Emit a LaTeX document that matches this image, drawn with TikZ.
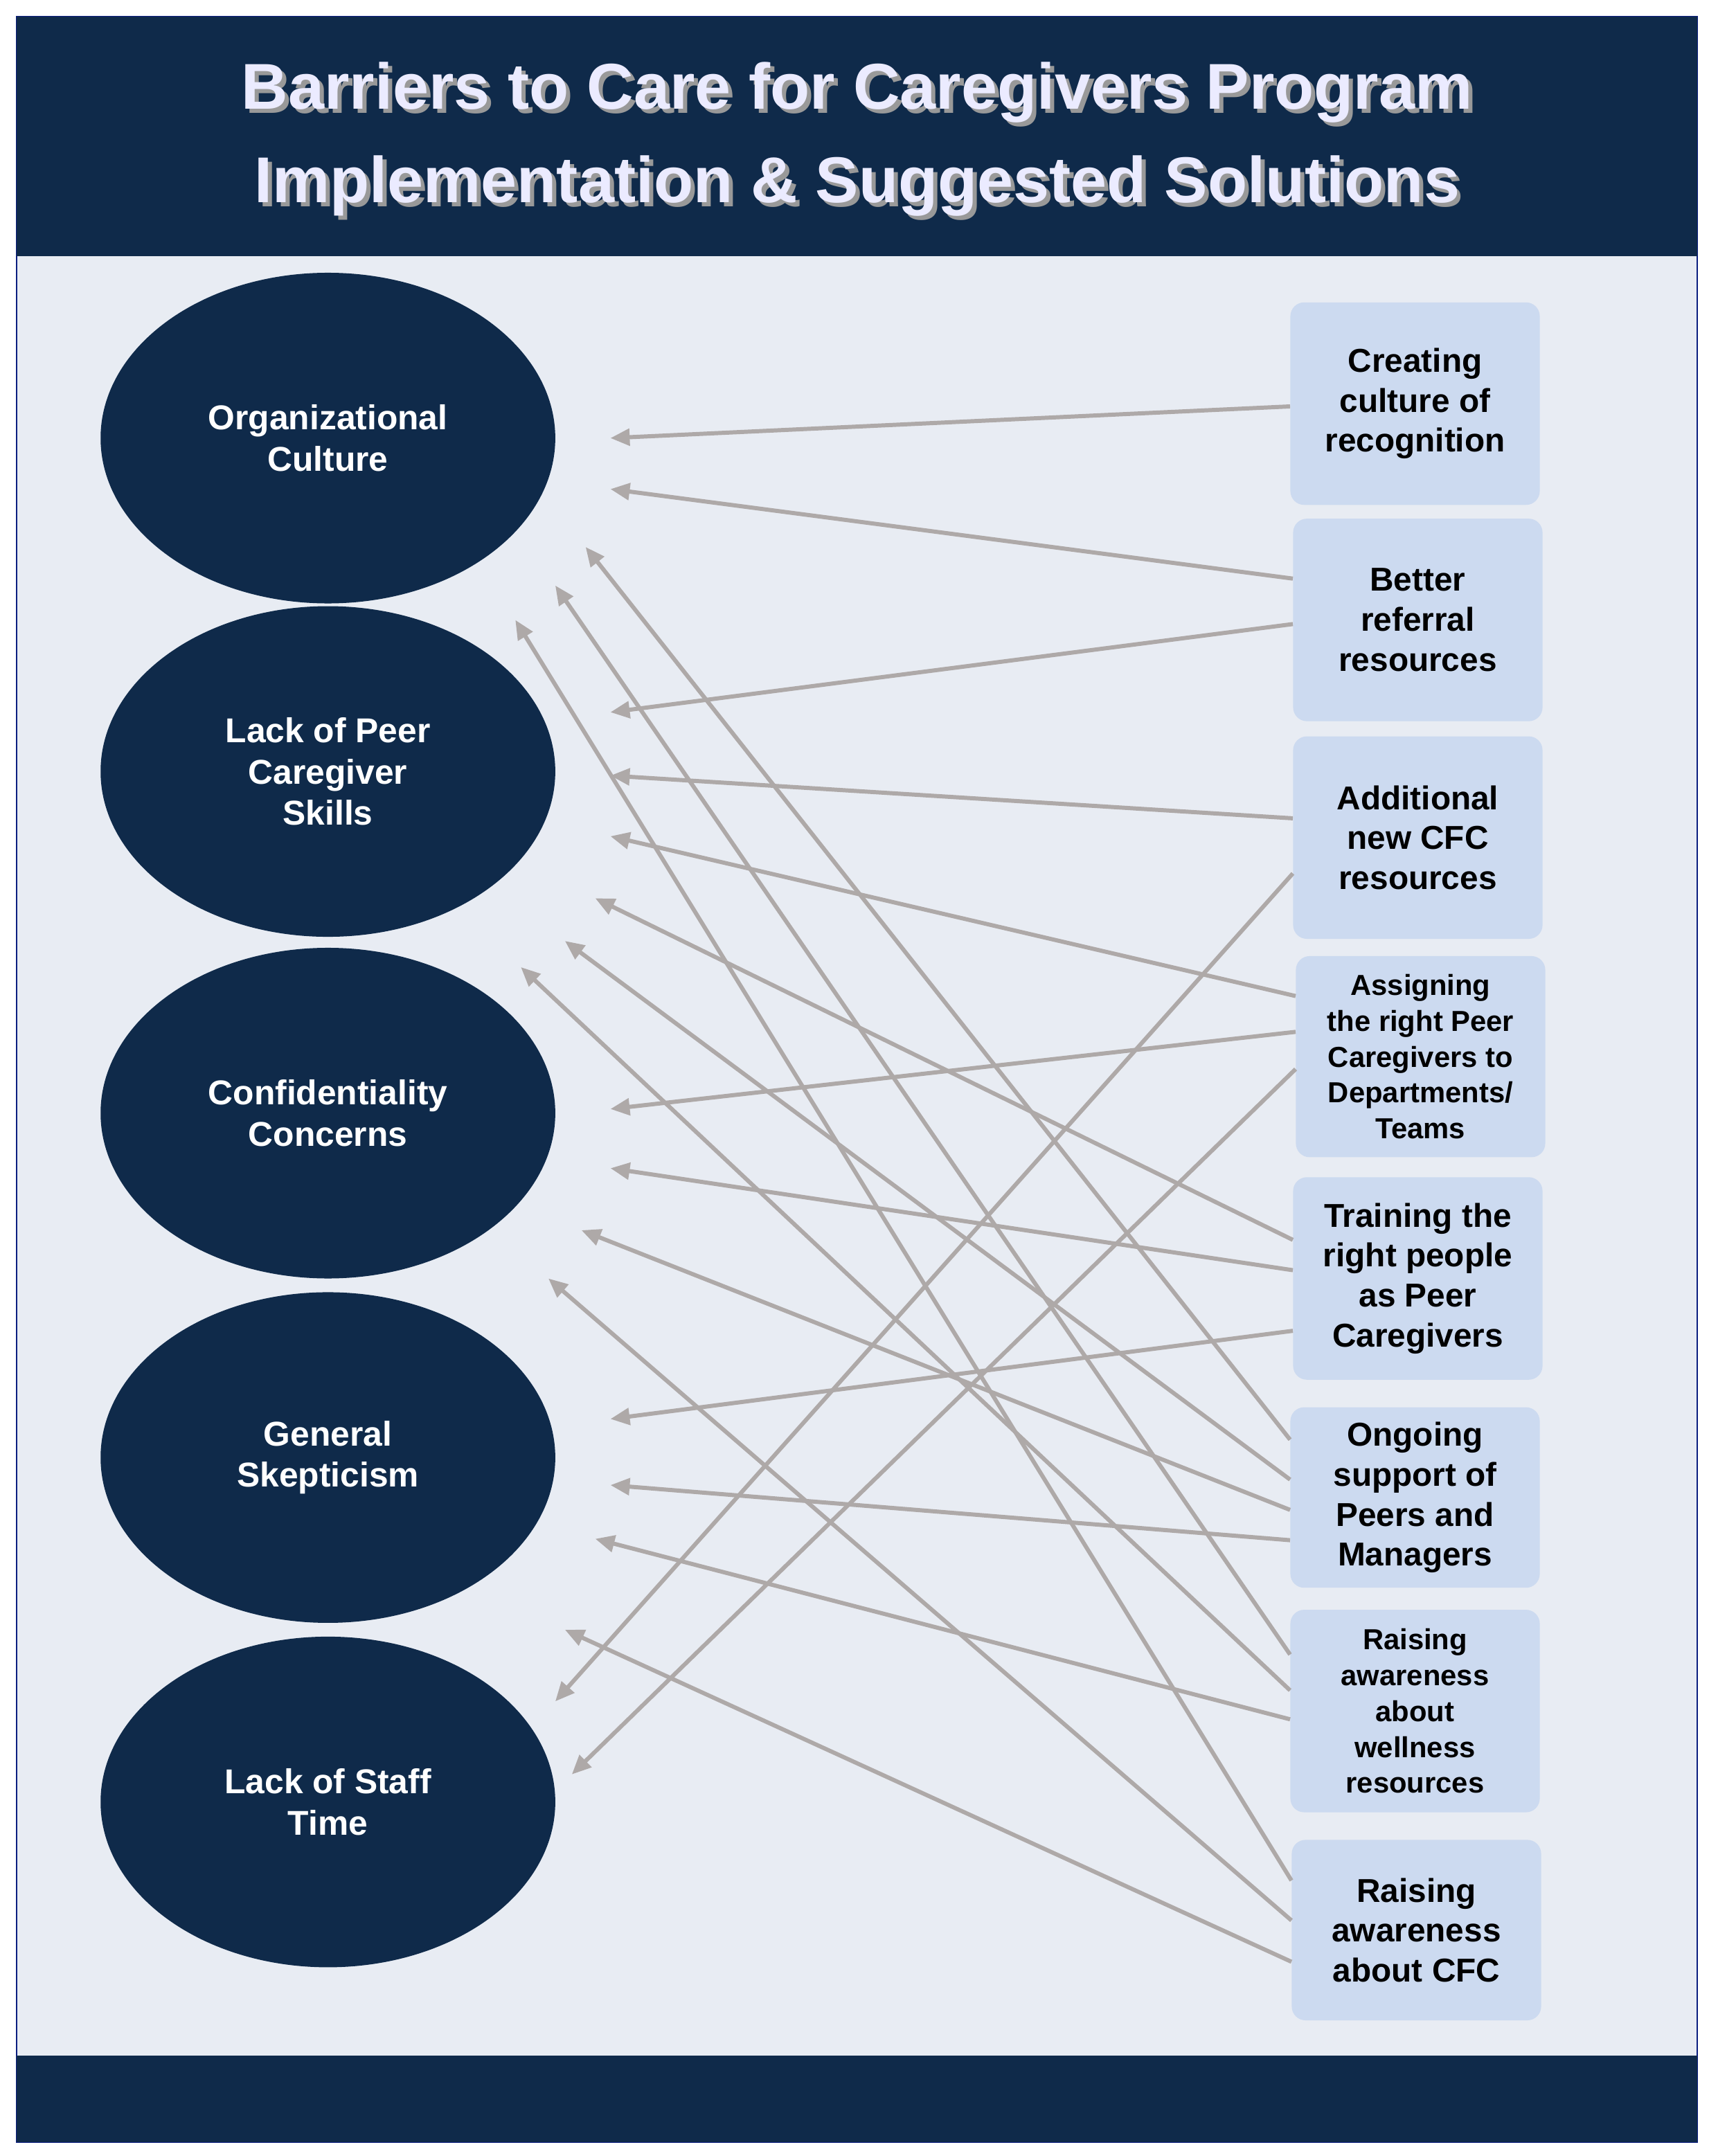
\documentclass[tikz,border=0pt]{standalone}
\usepackage{fontspec}
\setmainfont{Liberation Sans}
\usetikzlibrary{shapes.geometric,arrows.meta}
\definecolor{navy}{HTML}{0F2A4A}
\definecolor{bg}{HTML}{E8ECF3}
\definecolor{boxc}{HTML}{CCDAF0}
\definecolor{arr}{HTML}{AEA9A8}
\begin{document}
\begin{tikzpicture}[x=1pt,y=-1pt,
  ell/.style={ellipse,fill=navy,minimum width=330pt,minimum height=240pt,text=white,font=\bfseries\fontsize{25}{30}\selectfont,align=center,inner sep=0pt},
  bx/.style={rounded corners=10pt,fill=boxc,minimum width=181pt,align=center,font=\bfseries\fontsize{24}{29}\selectfont,inner sep=2pt},
  sm/.style={font=\bfseries\fontsize{21}{26}\selectfont},
  ar/.style={draw=arr,line width=3pt,-{Triangle[length=14pt,width=12pt]}}]
\useasboundingbox (0,0) rectangle (1240,1565);
\fill[white] (0,0) rectangle (1240,1565);
\fill[bg,draw=navy!70!blue,line width=1pt] (12,12) rectangle (1232,1555);
\fill[navy] (12,12) rectangle (1232,186);
\fill[navy] (12,1492) rectangle (1232,1555);
\node[text=black!40,font=\bfseries\fontsize{47}{68}\selectfont,align=center] at (625,104) {Barriers to Care for Caregivers Program\\Implementation \& Suggested Solutions};
\node (title) [text=white!92!blue,font=\bfseries\fontsize{47}{68}\selectfont,align=center] at (622,101) {Barriers to Care for Caregivers Program\\Implementation \& Suggested Solutions};
\node[ell] (e1) at (238,318) {Organizational\\Culture};
\node[ell] (e2) at (238,560) {Lack of Peer\\Caregiver\\Skills};
\node[ell] (e3) at (238,808) {Confidentiality\\Concerns};
\node[ell] (e4) at (238,1058) {General\\Skepticism};
\node[ell] (e5) at (238,1308) {Lack of Staff\\Time};
\node[bx,minimum height=147pt] (b1) at (1027,293) {Creating\\culture of\\recognition};
\node[bx,minimum height=147pt] (b2) at (1029,450) {Better\\referral\\resources};
\node[bx,minimum height=147pt] (b3) at (1029,608) {Additional\\new CFC\\resources};
\node[bx,sm,minimum height=146pt] (b4) at (1031,767) {Assigning\\the right Peer\\Caregivers to\\Departments/\\Teams};
\node[bx,minimum height=147pt] (b5) at (1029,928) {Training the\\right people\\as Peer\\Caregivers};
\node[bx,minimum height=131pt] (b6) at (1027,1087) {Ongoing\\support of\\Peers and\\Managers};
\node[bx,sm,minimum height=147pt] (b7) at (1027,1242) {Raising\\awareness\\about\\wellness\\resources};
\node[bx,minimum height=131pt] (b8) at (1028,1401) {Raising\\awareness\\about CFC};
% free ends near barriers
\foreach \n/\x/\y in {a1/443/318,a2/443/355,a3/443/517,a4/443/563,a5/443/607,a6/443/805,a7/403/1235,a8/415/1288,a9/432/652,a10/443/848,a11/443/1030,a12/425/397,a13/410/683,a14/422/893,a15/443/1078,a16/403/425,a17/378/702,a18/432/1117,a19/374/450,a20/398/928,a21/410/1183}
  \coordinate (\n) at (\x,\y);
\foreach \s/\y/\t in {b1/295/a1,b2/420/a2,b2/453/a3,b3/594/a4,b3/634/a7,b4/723/a5,b4/749/a6,b4/776/a8,b5/900/a9,b5/922/a10,b5/966/a11,b6/1045/a12,b6/1074/a13,b6/1096/a14,b6/1118/a15,b7/1201/a16,b7/1227/a17,b7/1248/a18,b8/1365/a19,b8/1394/a20,b8/1424/a21}
  \draw[ar] (\s.west |- 0,\y) -- (\t);
\end{tikzpicture}
\end{document}
